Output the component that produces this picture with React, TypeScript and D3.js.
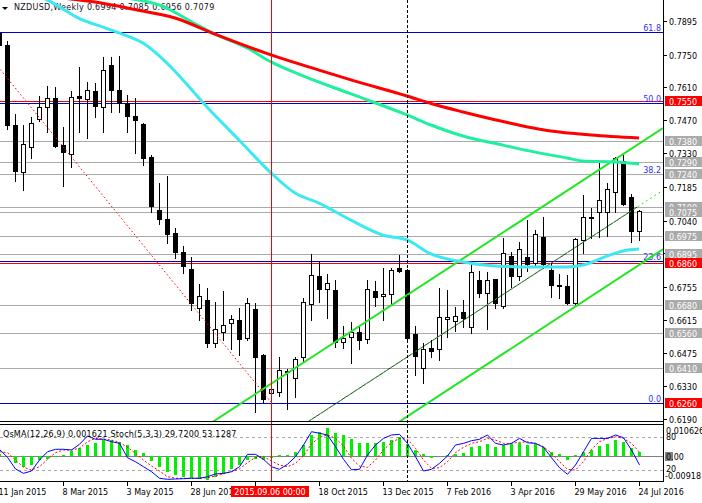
import React from "react";
import * as d3 from "d3";

const W = 702;
const H = 503;
const AXIS_X = 663;
const MAIN_BOTTOM = 422;
const IND_TOP = 425;
const IND_BOTTOM = 481;
const FONT = "DejaVu Sans, sans-serif";

// Weekly NZDUSD candles, week 0 = 11 Jan 2015 ... week 80 = 24 Jul 2016
const opens = [0.7843,0.7791,0.7449,0.7249,0.7354,0.7475,0.7525,0.7563,0.7363,0.7324,
0.7573,0.7559,0.7595,0.7527,0.7706,0.7599,0.7542,0.7488,0.7452,0.7312,
0.7085,0.7047,0.6988,0.6905,0.6833,0.6667,0.6700,0.6515,0.6564,0.6603,
0.6614,0.6539,0.6662,0.6465,0.6301,0.6308,0.6391,0.6365,0.6455,0.6683,
0.6803,0.6746,0.6743,0.6519,0.6543,0.6562,0.6532,0.6739,0.6717,0.6724,
0.6836,0.6828,0.6553,0.6410,0.6496,0.6489,0.6617,0.6610,0.6649,0.6583,
0.6786,0.6729,0.6789,0.6674,0.6888,0.6803,0.6883,0.6857,0.6968,0.6828,
0.6764,0.6762,0.6686,0.6957,0.7057,0.7075,0.7075,0.7161,0.7296,0.7142,
0.6994];
const highs = [0.7851,0.7809,0.7496,0.7449,0.7485,0.7573,0.7616,0.7610,0.7442,0.7595,
0.7699,0.7633,0.7627,0.7739,0.7741,0.7744,0.7577,0.7563,0.7456,0.7321,
0.7202,0.7232,0.7008,0.6931,0.6885,0.6769,0.6750,0.6693,0.6739,0.6636,
0.6665,0.6707,0.6686,0.6469,0.6328,0.6457,0.6405,0.6457,0.6707,0.6896,
0.6867,0.6811,0.6786,0.6589,0.6607,0.6586,0.6786,0.6783,0.6836,0.6836,
0.6893,0.6831,0.6589,0.6515,0.6529,0.6750,0.6743,0.6671,0.6700,0.6864,
0.6824,0.6821,0.6790,0.6964,0.6904,0.6950,0.7042,0.7000,0.7054,0.6857,
0.6810,0.6807,0.6967,0.7149,0.7095,0.7285,0.7200,0.7313,0.7321,0.7154,
0.7085];
const lows = [0.7787,0.7432,0.7211,0.7171,0.7309,0.7467,0.7420,0.7356,0.7189,0.7271,
0.7420,0.7392,0.7485,0.7420,0.7506,0.7506,0.7420,0.7328,0.7278,0.7078,
0.7024,0.6943,0.6879,0.6814,0.6657,0.6614,0.6498,0.6500,0.6529,0.6489,
0.6465,0.6529,0.6222,0.6265,0.6293,0.6289,0.6234,0.6286,0.6436,0.6614,
0.6693,0.6622,0.6500,0.6496,0.6429,0.6489,0.6515,0.6674,0.6614,0.6679,
0.6819,0.6535,0.6379,0.6346,0.6455,0.6443,0.6540,0.6569,0.6583,0.6560,
0.6714,0.6575,0.6667,0.6665,0.6757,0.6786,0.6826,0.6850,0.6836,0.6714,
0.6707,0.6683,0.6683,0.6900,0.6964,0.6971,0.6975,0.7075,0.7107,0.6950,
0.6957];
const closes = [0.7791,0.7449,0.7253,0.7368,0.7456,0.7525,0.7563,0.7360,0.7335,0.7568,
0.7566,0.7599,0.7532,0.7684,0.7599,0.7544,0.7488,0.7470,0.7309,0.7104,
0.7045,0.6983,0.6907,0.6846,0.6686,0.6717,0.6517,0.6575,0.6592,0.6617,
0.6534,0.6686,0.6457,0.6276,0.6319,0.6400,0.6396,0.6446,0.6690,0.6807,
0.6748,0.6772,0.6522,0.6539,0.6564,0.6529,0.6746,0.6714,0.6726,0.6828,
0.6825,0.6539,0.6462,0.6490,0.6483,0.6626,0.6626,0.6632,0.6625,0.6819,
0.6731,0.6786,0.6687,0.6900,0.6803,0.6917,0.6854,0.6981,0.6854,0.6764,
0.6760,0.6686,0.6960,0.7054,0.7050,0.7128,0.7174,0.7306,0.7111,0.6997,
0.7079];

const osma = [0.0008,0.0001,-0.0026,-0.0038,-0.0031,-0.0016,-0.0009,-0.0003,0.0003,0.0017,
0.0028,0.0040,0.0046,0.0058,0.0058,0.0052,0.0040,0.0022,0.0010,-0.0019,
-0.0040,-0.0056,-0.0068,-0.0076,-0.0080,-0.0082,-0.0086,-0.0074,-0.0064,-0.0046,
-0.0032,-0.0014,-0.0010,-0.0014,-0.0007,0.0002,0.0004,0.0014,0.0040,0.0076,
0.0088,0.0100,0.0082,0.0074,0.0062,0.0048,0.0048,0.0048,0.0052,0.0058,
0.0068,0.0044,0.0020,0.0008,-0.0008,0.0000,0.0004,0.0008,0.0010,0.0032,
0.0035,0.0044,0.0032,0.0040,0.0044,0.0046,0.0040,0.0044,0.0032,0.0016,
0.0007,-0.0013,0.0002,0.0016,0.0023,0.0035,0.0044,0.0056,0.0050,0.0028,
0.001621];
const stochMain = [58,43.6,22.4,14.5,18.7,38.7,53.8,58.2,58.2,56.9,
67.3,82.4,76.4,76.4,72,69,42.9,35.6,26.5,17.5,
5.5,3.6,4.2,4.7,5.5,5.5,8.4,13.3,14.5,17.5,
26.5,49,49,40,26.5,21.8,30.9,44.7,66,90.2,
87.3,84.2,62.9,40,21,21.8,47.8,66,78,84.2,
85.4,69,44.7,18.7,21.8,32.7,46,66,69,73.8,
76.4,84.2,69,66,69,78,70,69,61.8,42.9,
24.7,12.7,29.6,53.8,78,78,78,84.2,79.3,56.9,
29.72];
const stochSignal = [53.8,52,38.7,25.4,20.5,26.5,40,52,56.9,56.9,
60,72,78,76.9,75,70.9,61.8,50.9,38.7,27.8,
18.7,8.4,5.5,5.5,5.5,5.5,6.6,9.6,13.3,17.5,
22.4,33.8,43.6,44.7,36.9,29.6,26.5,32.7,46.5,67.8,
80,84.2,78,64.2,41.8,27.8,25.4,38.7,56.9,70.9,
78,76.4,60,38.7,23.6,24.7,35.6,52,61.8,69,
72,78,75,69,69,70.9,72,69,62.9,50.9,
35.6,21.8,20.5,35.6,58.2,72,78,81,78,69,
53.1287];

// moving averages: [week, price]
const redMA: [number, number][] = [[8,0.7992],[12,0.7975],[17,0.7943],[22,0.7907],[27,0.7838],[34,0.7749],[40,0.7684],[44,0.7642],[51,0.7573],[54,0.7541],[58,0.7505],[63,0.7464],[69,0.7423],[74,0.7406],[80,0.7393]];
const greenMA: [number, number][] = [[16,0.7992],[20,0.7963],[25,0.7873],[27,0.7838],[31,0.7779],[34,0.7719],[38,0.7659],[44,0.7582],[51,0.7492],[54,0.7449],[58,0.7402],[63,0.7363],[67,0.7333],[71,0.7308],[73,0.7295],[77,0.7291],[80,0.7282]];
const cyanMA: [number, number][] = [[5,0.7998],[6,0.7985],[8,0.7945],[10,0.7905],[13,0.7868],[15,0.7843],[18,0.7800],[21,0.7714],[23,0.7642],[26,0.7526],[30,0.7385],[34,0.7244],[37,0.7158],[40,0.7115],[44,0.7042],[48,0.6978],[51,0.6957],[54,0.6897],[58,0.6863],[62,0.6846],[67,0.6841],[71,0.6841],[73,0.6850],[76,0.6888],[78,0.6910],[80,0.6918]];

const grayLevels = [0.7380,0.7290,0.7240,0.7100,0.7075,0.6975,0.6895,0.6680,0.6560,0.6410];
const redLevels = [0.7550,0.6860,0.6260];
const fibPrices = [0.6260,0.6865,0.7239,0.7542,0.7845];
const fibNames = ["0.0","23.6","38.2","50.0","61.8"];
const priceTicks = [0.7895,0.7750,0.7610,0.7470,0.7330,0.7185,0.7040,0.6900,0.6755,0.6615,0.6475,0.6330,0.6190];
const dateWeeks = [0,8,16,24,32,40,48,56,64,72,80];
const dateNames = ["11 Jan 2015","8 Mar 2015","3 May 2015","28 Jun 2015","23 Aug 2015","18 Oct 2015","13 Dec 2015","7 Feb 2016","3 Apr 2016","29 May 2016","24 Jul 2016"];

const channelUpper: [number, number][] = [[33,0.6319],[80,0.7369]];
const channelLower: [number, number][] = [[51,0.6201],[80,0.6850]];
const channelMid: [number, number][] = [[40,0.6210],[80,0.7103]];
const fibTrend: [number, number][] = [[0,0.7693],[34,0.6263]];
const cursorWeek = 34;
const cursorLabel = "2015.09.06 00:00";
const dashedWeek = 51;

const x = d3.scaleLinear().domain([0, 80]).range([-1, 639]);
const y = d3.scaleLinear().domain([0.6178, 0.7984]).range([MAIN_BOTTOM, 0]);
const yOsma = d3.scaleLinear().domain([-0.00918, 0.010626]).range([481.5, 426.5]);
const yStoch = d3.scaleLinear().domain([0, 100]).range([481.3, 426.3]);

const crisp = (v: number) => Math.round(v) + 0.5;

function ray(pts: [number, number][], x0: number, x1: number) {
  const ax = x(pts[0][0]), ay = y(pts[0][1]);
  const bx = x(pts[1][0]), by = y(pts[1][1]);
  const k = (by - ay) / (bx - ax);
  return { x1: x0, y1: ay + k * (x0 - ax), x2: x1, y2: ay + k * (x1 - ax) };
}

export default function App() {
  const maLine = d3
    .line<[number, number]>()
    .x((d) => x(d[0]))
    .y((d) => y(d[1]))
    .curve(d3.curveMonotoneX);

  const stochLine = d3
    .line<number>()
    .x((_, i) => x(i) + 0.5)
    .y((d) => yStoch(d));

  const up = ray(channelUpper, -20, AXIS_X);
  const lo = ray(channelLower, -20, AXIS_X);
  const midBlack = ray(channelMid, -20, x(80) - 2);
  const midGreen = ray(channelMid, -20, AXIS_X);
  const ft = ray(fibTrend, -20, x(fibTrend[1][0]));

  const title = "NZDUSD,Weekly  0.6994 0.7085 0.6956 0.7079";
  const indTitle = "OsMA(12,26,9) 0.001621  Stoch(5,3,3) 29.7200 53.1287";

  return (
    <div style={{ position: "absolute", left: 0, top: 0 }}>
      <svg width={W} height={H} style={{ display: "block", fontFamily: FONT }}>
        <defs>
          <clipPath id="mainClip">
            <rect x={0} y={0} width={AXIS_X} height={MAIN_BOTTOM} />
          </clipPath>
          <clipPath id="indClip">
            <rect x={0} y={IND_TOP} width={AXIS_X} height={IND_BOTTOM - IND_TOP} />
          </clipPath>
        </defs>
        <rect x={0} y={0} width={W} height={H} fill="#ffffff" />

        <g clipPath="url(#mainClip)">
          {redLevels.map((p, i) => (
            <line key={"r" + i} x1={0} x2={AXIS_X} y1={crisp(y(p))} y2={crisp(y(p))} stroke="#ff0000" strokeWidth={1} />
          ))}
          {fibPrices.map((p, i) => (
            <line key={"f" + i} x1={0} x2={AXIS_X} y1={crisp(y(p))} y2={crisp(y(p))} stroke="#0000cc" strokeWidth={1} />
          ))}
          {grayLevels.map((p, i) => (
            <line key={"g" + i} x1={0} x2={AXIS_X} y1={crisp(y(p))} y2={crisp(y(p))} stroke="#aaaaaa" strokeWidth={1} />
          ))}
          {fibPrices.map((p, i) => (
            <text key={"ft" + i} x={661} y={Math.round(y(p)) - 1} textAnchor="end" fontSize={8} fill="#3030ff">
              {fibNames[i]}
            </text>
          ))}

          <polygon points="2,7 8,7 5,10" fill="#000" />
          <text x={14} y={10} fontSize={8} fill="#101020" letterSpacing={0.3}>{title}</text>

          {opens.map((o, i) => {
            const c = closes[i];
            const px = Math.round(x(i));
            const top = Math.round(y(Math.max(o, c)));
            const bot = Math.round(y(Math.min(o, c)));
            const bear = c < o;
            return (
              <g key={"c" + i}>
                <line x1={px + 0.5} x2={px + 0.5} y1={Math.round(y(highs[i]))} y2={Math.round(y(lows[i])) + 1} stroke="#000" strokeWidth={1} />
                <rect x={px - 1.5} y={top + 0.5} width={4} height={Math.max(bot - top, 1)} fill={bear ? "#000" : "#fff"} stroke="#000" strokeWidth={1} />
              </g>
            );
          })}

          <line x1={up.x1} y1={up.y1} x2={up.x2} y2={up.y2} stroke="#22e622" strokeWidth={2} />
          <line x1={lo.x1} y1={lo.y1} x2={lo.x2} y2={lo.y2} stroke="#22e622" strokeWidth={2} />
          <line x1={midBlack.x1} y1={midBlack.y1} x2={midBlack.x2} y2={midBlack.y2} stroke="#000" strokeWidth={0.8} />
          <line x1={midGreen.x1} y1={midGreen.y1} x2={midGreen.x2} y2={midGreen.y2} stroke="#22e622" strokeWidth={1} strokeDasharray="2,3" />
          <line x1={ft.x1} y1={ft.y1} x2={ft.x2} y2={ft.y2} stroke="#ff0000" strokeWidth={1} strokeDasharray="1.5,2.5" />

          <path d={maLine(cyanMA) || ""} fill="none" stroke="#3ce8f2" strokeWidth={3} />
          <path d={maLine(greenMA) || ""} fill="none" stroke="#1ef0a0" strokeWidth={3} />
          <path d={maLine(redMA) || ""} fill="none" stroke="#ff0000" strokeWidth={3} />
        </g>

        <g clipPath="url(#indClip)">
          <line x1={0} x2={AXIS_X} y1={crisp(yStoch(80))} y2={crisp(yStoch(80))} stroke="#a8a8a8" strokeDasharray="3,3" />
          <line x1={0} x2={AXIS_X} y1={crisp(yStoch(20))} y2={crisp(yStoch(20))} stroke="#a8a8a8" strokeDasharray="3,3" />
          <line x1={0} x2={AXIS_X} y1={crisp(yOsma(0))} y2={crisp(yOsma(0))} stroke="#808080" />
          {osma.map((v, i) => {
            const y0 = Math.round(yOsma(0));
            const yv = Math.round(yOsma(v));
            return (
              <rect key={"o" + i} x={Math.round(x(i)) - 1} y={Math.min(y0, yv)} width={3} height={Math.abs(yv - y0)} fill="#00f000" />
            );
          })}
          <path d={stochLine(stochSignal) || ""} fill="none" stroke="#ff0000" strokeWidth={1} strokeDasharray="2,2" />
          <path d={stochLine(stochMain) || ""} fill="none" stroke="#0000ff" strokeWidth={1} />
          <text x={3} y={436.5} fontSize={8} fill="#000" letterSpacing={0.2}>{indTitle}</text>
        </g>

        {/* vertical lines */}
        <line x1={crisp(x(cursorWeek))} x2={crisp(x(cursorWeek))} y1={0} y2={IND_BOTTOM} stroke="#ff0000" strokeWidth={1} />
        <line x1={crisp(x(dashedWeek))} x2={crisp(x(dashedWeek))} y1={0} y2={IND_BOTTOM} stroke="#000" strokeWidth={1} strokeDasharray="3,2" />

        {/* frame */}
        <line x1={0} x2={AXIS_X + 0.5} y1={421.5} y2={421.5} stroke="#000" />
        <line x1={0} x2={AXIS_X + 0.5} y1={424.5} y2={424.5} stroke="#000" />
        <line x1={0} x2={AXIS_X + 0.5} y1={481.5} y2={481.5} stroke="#000" />
        <line x1={AXIS_X + 0.5} x2={AXIS_X + 0.5} y1={0} y2={482} stroke="#000" />

        {/* price axis */}
        {priceTicks.map((p, i) => (
          <g key={"pt" + i}>
            <line x1={AXIS_X + 1} x2={AXIS_X + 4} y1={crisp(y(p))} y2={crisp(y(p))} stroke="#000" />
            <text x={669} y={Math.round(y(p)) + 3.5} fontSize={8} fill="#000">{p.toFixed(4)}</text>
          </g>
        ))}
        {grayLevels.map((p, i) => (
          <g key={"gb" + i}>
            <rect x={665} y={Math.round(y(p)) - 5} width={37} height={10} fill="#aaaaaa" />
            <text x={669} y={Math.round(y(p)) + 3.5} fontSize={8} fill="#ffffff">{p.toFixed(4)}</text>
          </g>
        ))}
        {redLevels.map((p, i) => (
          <g key={"rb" + i}>
            <rect x={665} y={Math.round(y(p)) - 5} width={37} height={10} fill="#ff0000" />
            <text x={669} y={Math.round(y(p)) + 3.5} fontSize={8} fill="#ffffff">{p.toFixed(4)}</text>
          </g>
        ))}

        {/* indicator axis */}
        <text x={666} y={yOsma(0.010626) + 7.5} fontSize={8} fill="#000">0.010626</text>
        <text x={666} y={yStoch(80) + 3} fontSize={8} fill="#000">80</text>
        <rect x={665} y={Math.round(yOsma(0)) - 4} width={8} height={9} fill="#808080" />
        <text x={666} y={Math.round(yOsma(0)) + 3.5} fontSize={8} fill="#000">0.00</text>
        <text x={666} y={yStoch(20) + 2} fontSize={8} fill="#000">20</text>
        <text x={665} y={yOsma(-0.00918) - 3} fontSize={8} fill="#000">-0.00918</text>

        {/* date axis */}
        {dateWeeks.map((w, i) => (
          <g key={"d" + i}>
            <line x1={crisp(x(w))} x2={crisp(x(w))} y1={482} y2={486} stroke="#000" />
            <text x={x(w) - 0.5} y={494.5} fontSize={8} fill="#000">{dateNames[i]}</text>
          </g>
        ))}
        <rect x={x(cursorWeek) - 40} y={486} width={78} height={11} fill="#ff0000" />
        <text x={x(cursorWeek) - 1} y={494.5} fontSize={8} fill="#ffffff" textAnchor="middle">{cursorLabel}</text>
      </svg>
    </div>
  );
}
